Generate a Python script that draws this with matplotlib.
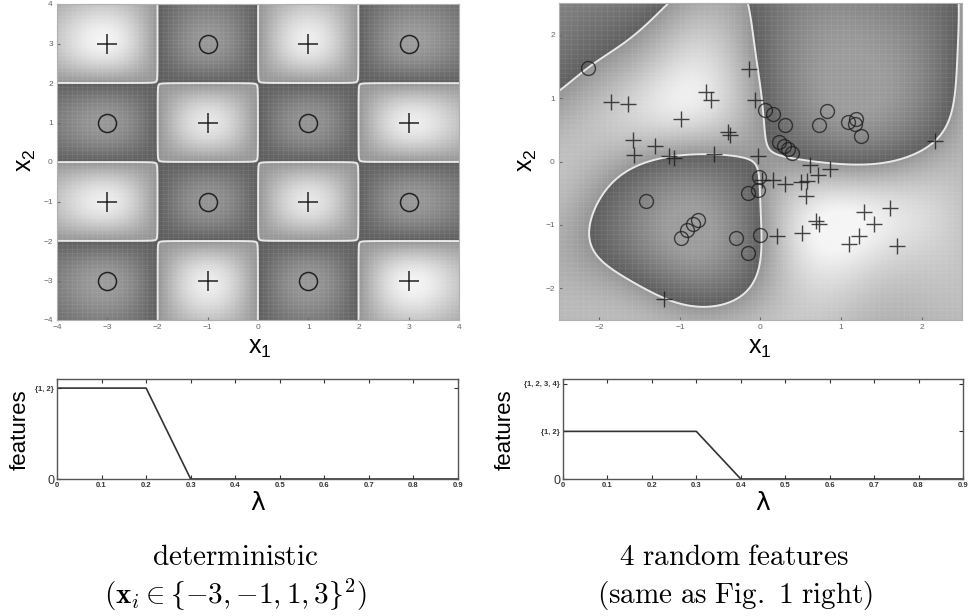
import numpy as np
import matplotlib
matplotlib.use("Agg")
import matplotlib.pyplot as plt

plt.rcParams["font.family"] = ["Liberation Sans", "DejaVu Sans"]
plt.rcParams["mathtext.fontset"] = "custom"
plt.rcParams["mathtext.rm"] = "Liberation Sans"
plt.rcParams["mathtext.it"] = "Liberation Sans:italic"
plt.rcParams["mathtext.bf"] = "Liberation Sans:bold"

# --- left: deterministic grid (x_i in {-3,-1,1,3}^2)
det_plus_x1 = [-3, 1, -1, 3, -3, 1, -1, 3]
det_plus_x2 = [3, 3, 1, 1, -1, -1, -3, -3]
det_circ_x1 = [-1, 3, -3, 1, -1, 3, -3, 1]
det_circ_x2 = [3, 3, 1, 1, -1, -1, -3, -3]

# --- right: 4 random features, sample points
rnd_plus_x1 = [-1.85, -1.65, -0.99, -0.68, -0.62, -0.14, -0.07, -1.58, -1.57, -1.31,
               -1.13, -1.07, -0.40, -0.38, -0.58, -0.03, 0.62, 0.86, 0.71, 0.58,
               0.57, 0.16, 0.30, 0.50, 0.02, 0.21, 0.52, 0.69, 0.72, 1.29,
               1.41, 1.61, 1.69, 1.22, 1.10, 2.17, -1.20]
rnd_plus_x2 = [0.94, 0.91, 0.67, 1.09, 0.97, 1.46, 0.97, 0.34, 0.10, 0.25,
               0.08, 0.05, 0.46, 0.42, 0.12, 0.08, -0.05, -0.12, -0.22, -0.31,
               -0.54, -0.29, -0.35, -0.32, -0.29, -1.18, -1.12, -0.94, -0.99, -0.80,
               -0.98, -0.74, -1.34, -1.17, -1.30, 0.32, -2.17]
rnd_circ_x1 = [-2.14, -1.42, -0.99, -0.91, -0.84, -0.77, -0.30, -0.16, -0.01,
               -0.15, -0.03, -0.02, 0.05, 0.15, 0.30, 0.23, 0.29, 0.34, 0.39,
               0.72, 0.82, 1.08, 1.19, 1.17, 1.25]
rnd_circ_x2 = [1.48, -0.63, -1.20, -1.08, -0.99, -0.93, -1.20, -1.45, -1.16,
               -0.50, -0.45, -0.24, 0.81, 0.75, 0.58, 0.30, 0.25, 0.19, 0.13,
               0.58, 0.79, 0.63, 0.67, 0.59, 0.41]

# decision boundary of the random-feature model
bnd_x1 = [-2.47, -2.14, -1.77, -1.39, -1.13,
          -0.16, -0.10, -0.03, 0.01, 0.05, 0.13, 0.30, 0.71, 1.33, 1.74, 2.07, 2.32, 2.42, 2.45, 2.46,
          -2.13, -1.97, -1.64, -1.23, -0.73, -0.32, -0.07, -0.01, 0.00, -0.01, -0.16, -0.57, -0.98,
          -1.48, -1.89, -2.07]
bnd_x2 = [1.14, 1.47, 1.82, 2.18, 2.50,
          2.50, 2.03, 1.50, 0.97, 0.45, 0.24, 0.08, -0.02, -0.04, 0.03, 0.24, 0.61, 1.24, 2.03, 2.50,
          -1.13, -0.55, -0.13, 0.05, 0.11, 0.11, 0.00, -0.29, -0.87, -1.55, -2.03, -2.28, -2.24,
          -1.97, -1.66, -1.39]
# rough level of the decision function inside the regions
lvl_x1 = [-0.9, -1.5, -0.5, -0.5, -1.2, -0.3,
          1.2, 0.6, 2.0, 0.5, 1.5, 2.1, 0.3, 1.2, 0.8,
          -2.45, -2.4, -1.8,
          -0.9, -1.8, -0.5, -1.3, -2.3, -2.4, 1.2, 0.5, 2.2, 0.8, 1.8, 2.4,
          -2.4, 0.0, -1.5, 0.3, -0.4, 0.15, 2.4, -0.6]
lvl_x2 = [-1.1, -1.2, -0.5, -1.8, -0.5, -1.2,
          1.4, 0.8, 1.8, 2.2, 0.5, 0.8, 1.5, 2.4, 0.3,
          2.45, 1.8, 2.4,
          0.8, 0.6, 1.8, 1.5, 0.5, -0.4, -1.1, -0.6, -1.4, -2.2, -0.5, -0.3,
          -2.4, -2.45, -2.45, -0.1, 0.5, -0.8, -2.4, 2.4]
lvl_f = [-1.0, -0.7, -0.7, -0.7, -0.7, -0.7,
         -1.0, -0.7, -0.7, -0.7, -0.7, -0.5, -0.6, -0.7, -0.5,
         -0.6, -0.3, -0.3,
         0.85, 0.6, 0.6, 0.5, 0.4, 0.4, 1.0, 0.7, 0.6, 0.6, 0.7, 0.4,
         0.4, 0.4, 0.3, 0.3, 0.5, 0.2, 0.4, 0.4]

# regularization paths
lam_left = [0.0, 0.2, 0.3, 0.9]
feat_left = [1, 1, 0, 0]
lam_right = [0.0, 0.3, 0.4, 0.9]
feat_right = [1, 1, 0, 0]


def rbf(x1, x2, c1, c2, s):
    return np.exp(-((x1 - c1) ** 2 + (x2 - c2) ** 2) / (2 * s ** 2))


def shade(f):
    # positive side bright, negative side darker, jump at f = 0
    return np.where(f >= 0, 0.58 + 0.38 * np.clip(f, 0, 1),
                    0.37 + 0.24 * np.clip(-f, 0, 1))


def draw_field(ax, g, f, lim, step):
    ax.imshow(shade(f), extent=[-lim, lim, -lim, lim], origin="lower",
              cmap="gray", vmin=0, vmax=1, aspect="auto", interpolation="bilinear")
    X, Y = np.meshgrid(g, g)
    ax.contour(X, Y, f, levels=[0], colors="#e8e8e8", linewidths=1.4)
    mesh = np.arange(-lim, lim + 1e-9, step)
    ax.vlines(mesh, -lim, lim, colors="white", alpha=0.07, lw=0.6)
    ax.hlines(mesh, -lim, lim, colors="white", alpha=0.07, lw=0.6)


fig = plt.figure(figsize=(9.7, 6.16), dpi=100)


def rect(x0, y0, x1, y1):
    return [x0 / 970, 1 - y1 / 616, (x1 - x0) / 970, (y1 - y0) / 616]


# ---------- top left
ax1 = fig.add_axes(rect(57, 4, 459, 320))
g = np.linspace(-4, 4, 401)
G1, G2 = np.meshgrid(g, g)
f1 = np.full_like(G1, -0.002)
for a, b in zip(det_plus_x1, det_plus_x2):
    f1 += rbf(G1, G2, a, b, 0.85)
for a, b in zip(det_circ_x1, det_circ_x2):
    f1 -= rbf(G1, G2, a, b, 0.85)
f1 /= np.abs(f1).max()
draw_field(ax1, g, f1, 4, 0.1)
ax1.plot(det_plus_x1, det_plus_x2, "+", ms=14, mew=1.1, color="#222222")
ax1.plot(det_circ_x1, det_circ_x2, "o", ms=13, mew=1.1, mfc="none", mec="#222222")
ax1.set_xlim(-4, 4)
ax1.set_ylim(-4, 4)
ax1.set_xticks(range(-4, 5))
ax1.set_yticks(range(-4, 5))

# ---------- top right: smooth fit through the traced boundary / levels
cgrid = np.linspace(-3, 3, 9)
C1, C2 = [c.ravel() for c in np.meshgrid(cgrid, cgrid)]
px1 = np.r_[bnd_x1, lvl_x1]
px2 = np.r_[bnd_x2, lvl_x2]
tgt = np.r_[np.zeros(len(bnd_x1)), lvl_f]
wts = np.r_[np.full(len(bnd_x1), 3.0), np.ones(len(lvl_f))]
A = np.c_[rbf(px1[:, None], px2[:, None], C1, C2, 0.6), np.ones(len(px1))]
reg = 0.05
coef = np.linalg.solve((A * wts[:, None] ** 2).T @ A + reg * np.eye(A.shape[1]),
                       (A * wts[:, None] ** 2).T @ tgt)

ax2 = fig.add_axes(rect(559, 3, 962, 320))
h = np.linspace(-2.5, 2.5, 401)
H1, H2 = np.meshgrid(h, h)
f2 = rbf(H1[..., None], H2[..., None], C1, C2, 0.6) @ coef[:-1] + coef[-1]
draw_field(ax2, h, f2, 2.5, 0.075)
ax2.plot(rnd_plus_x1, rnd_plus_x2, "+", ms=12, mew=1.0, color="#1a1a1a", alpha=0.8)
ax2.plot(rnd_circ_x1, rnd_circ_x2, "o", ms=10, mew=1.0, mfc="none", mec="#1a1a1a", alpha=0.75)
ax2.set_xlim(-2.5, 2.5)
ax2.set_ylim(-2.5, 2.5)
ax2.set_xticks(range(-2, 3))
ax2.set_yticks(range(-2, 3))

for ax in (ax1, ax2):
    ax.tick_params(direction="in", length=2, labelsize=6, colors="#666666", pad=3)
    for sp in ax.spines.values():
        sp.set_color("#b0b0b0")

# ---------- bottom paths
ax3 = fig.add_axes(rect(57, 379, 458, 479))
ax3.plot(lam_left, feat_left, color="#333333", lw=1.2)
ax3.set_ylim(0, 1.1)
ax3.set_yticks([0, 1])
ax3.set_yticklabels(["0", "{1, 2}"])

ax4 = fig.add_axes(rect(563, 379, 963, 479))
ax4.plot(lam_right, feat_right, color="#333333", lw=1.2)
ax4.set_ylim(0, 2.1)
ax4.set_yticks([0, 1, 2])
ax4.set_yticklabels(["0", "{1, 2}", "{1, 2, 3, 4}"])

for ax in (ax3, ax4):
    ax.set_xlim(0, 0.9)
    ax.set_xticks(np.arange(0, 0.91, 0.1))
    ax.set_xticklabels(["0"] + ["%.1f" % v for v in np.arange(0.1, 0.91, 0.1)])
    ax.tick_params(direction="in", length=3, labelsize=5.5, top=True, right=True,
                   colors="#333333", pad=2)
    for lab in ax.get_xticklabels() + ax.get_yticklabels():
        lab.set_fontweight("bold")
    ax.get_yticklabels()[0].set_fontsize(9)
    ax.get_yticklabels()[0].set_fontweight("normal")
    for sp in ax.spines.values():
        sp.set_color("#555555")
        sp.set_linewidth(1.0)


def ftext(x, y, s, **kw):
    fig.text(x / 970, 1 - y / 616, s, ha="center", va="center", **kw)


# axis labels
ftext(260, 348, r"$\mathrm{x}_\mathrm{1}$", size=18)
ftext(760, 348, r"$\mathrm{x}_\mathrm{1}$", size=18)
ftext(26, 160, r"$\mathrm{x}_\mathrm{2}$", size=18, rotation=90)
ftext(527, 160, r"$\mathrm{x}_\mathrm{2}$", size=18, rotation=90)
ftext(20, 430, "features", size=16, rotation=90)
ftext(505, 430, "features", size=16, rotation=90)
ftext(258, 503, "λ", size=18, family="DejaVu Sans")
ftext(763, 503, "λ", size=18, family="DejaVu Sans")

# captions
ftext(235, 557, r"$\mathrm{deterministic}$", size=21, math_fontfamily="cm")
ftext(235, 595, r"$(\mathbf{x}_i \in \mathcal{f}{-3},{-1},1,3\mathcal{g}^2)$", size=21,
      math_fontfamily="cm")
ftext(734, 557, r"$\mathrm{4\ random\ features}$", size=21, math_fontfamily="cm")
ftext(735, 595, r"$\mathrm{(same\ as\ Fig.\ 1\ right)}$", size=21, math_fontfamily="cm")

fig.savefig("out.png", dpi=100)
